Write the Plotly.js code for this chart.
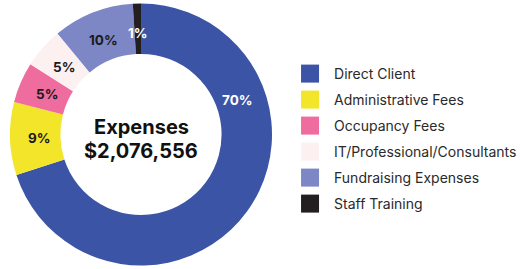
<!DOCTYPE html>
<html>
<head>
<meta charset="utf-8">
<script src="https://cdn.plot.ly/plotly-3.0.1.min.js"></script>
<style>html,body{margin:0;padding:0;background:#fff;}#chart{width:520px;height:269px;}</style>
</head>
<body>
<div id="chart"></div>
<script>
const categories = ["Direct Client", "Administrative Fees", "Occupancy Fees", "IT/Professional/Consultants", "Fundraising Expenses", "Staff Training"];
const percentValues = [70, 9, 5, 5, 10, 1];
const sliceColors = ["#3c54a5", "#f3e62a", "#ef6c9f", "#fdf0f1", "#7e87c5", "#231f20"];
const labelColors = ["#ffffff", "#1a1a1a", "#1a1a1a", "#1a1a1a", "#1a1a1a", "#ffffff"];
const centerTitle = "Expenses";
const centerTotal = "$2,076,556";

// pie geometry (pixels)
const W = 520, H = 269;
const cx = 141, cy = 134.5, R = 131;
const labelR = 102;
const firstLabelAngle = 70; // degrees clockwise from 12 o'clock for the large slice label

const trace = {
  type: "pie",
  labels: categories,
  values: percentValues,
  sort: false,
  direction: "clockwise",
  rotation: 0,
  hole: 0.615,
  marker: { colors: sliceColors, line: { width: 0 } },
  textinfo: "none",
  domain: { x: [(cx - R) / W, (cx + R) / W], y: [(H - cy - R) / H, (H - cy + R) / H] },
  hoverinfo: "none"
};

const total = percentValues.reduce((a, b) => a + b, 0);
const labelFont = { family: "Inter, 'DejaVu Sans', sans-serif", size: 13.5, weight: 700 };
const annotations = [];
let cum = 0;
percentValues.forEach(function (v, i) {
  let ang = (cum + v / 2) / total * 360;
  if (i === 0) ang = firstLabelAngle;
  cum += v;
  const rad = ang * Math.PI / 180;
  const px = cx + labelR * Math.sin(rad);
  const py = cy - labelR * Math.cos(rad);
  annotations.push({
    text: "<b>" + v + "%</b>", x: px / W, y: 1 - py / H, xref: "paper", yref: "paper",
    xanchor: "center", yanchor: "middle", showarrow: false,
    font: Object.assign({}, labelFont, { color: labelColors[i] })
  });
});
annotations.push(
  { text: "<b>" + centerTitle + "</b>", x: cx / W, y: 1 - 127 / H, xref: "paper", yref: "paper", showarrow: false,
    xanchor: "center", yanchor: "middle", font: { family: "Inter, 'DejaVu Sans', sans-serif", size: 20, color: "#111" } },
  { text: "<b>" + centerTotal + "</b>", x: cx / W, y: 1 - 151 / H, xref: "paper", yref: "paper", showarrow: false,
    xanchor: "center", yanchor: "middle", font: { family: "Inter, 'DejaVu Sans', sans-serif", size: 20, color: "#111" } }
);

const layout = {
  width: W, height: H,
  margin: { l: 0, r: 0, t: 0, b: 0 },
  paper_bgcolor: "#fff",
  showlegend: true,
  legend: {
    x: 0.527, xanchor: "left", y: 1 - 58 / H, yanchor: "top",
    font: { family: "Inter, 'Liberation Sans', sans-serif", size: 14, color: "#2a2a2a" },
    itemclick: false, itemdoubleclick: false
  },
  annotations: annotations
};

Plotly.newPlot("chart", [trace], layout, { staticPlot: true, displayModeBar: false }).then(function () {
  const items = document.querySelectorAll(".legend .traces");
  let y0 = null;
  items.forEach(function (g, i) {
    const t = g.getAttribute("transform") || "";
    const m = t.match(/translate\(([-\d.]+)\s*,?\s*([-\d.]+)\)/);
    if (!m) return;
    const x = parseFloat(m[1]);
    if (y0 === null) y0 = parseFloat(m[2]);
    g.setAttribute("transform", "translate(" + x + "," + (y0 + i * 26) + ")");
    const pts = g.querySelector(".legendpoints");
    if (pts) pts.setAttribute("transform", "translate(6,0) scale(1.5)");
    const txt = g.querySelector("text.legendtext");
    if (txt) txt.setAttribute("x", parseFloat(txt.getAttribute("x")) + 20);
  });
  document.querySelectorAll(".legend .scrollbox, .legend").forEach(function (el) { el.removeAttribute("clip-path"); });
  const bg = document.querySelector(".legend .bg");
  if (bg) bg.setAttribute("height", 200);
});
</script>
</body>
</html>
